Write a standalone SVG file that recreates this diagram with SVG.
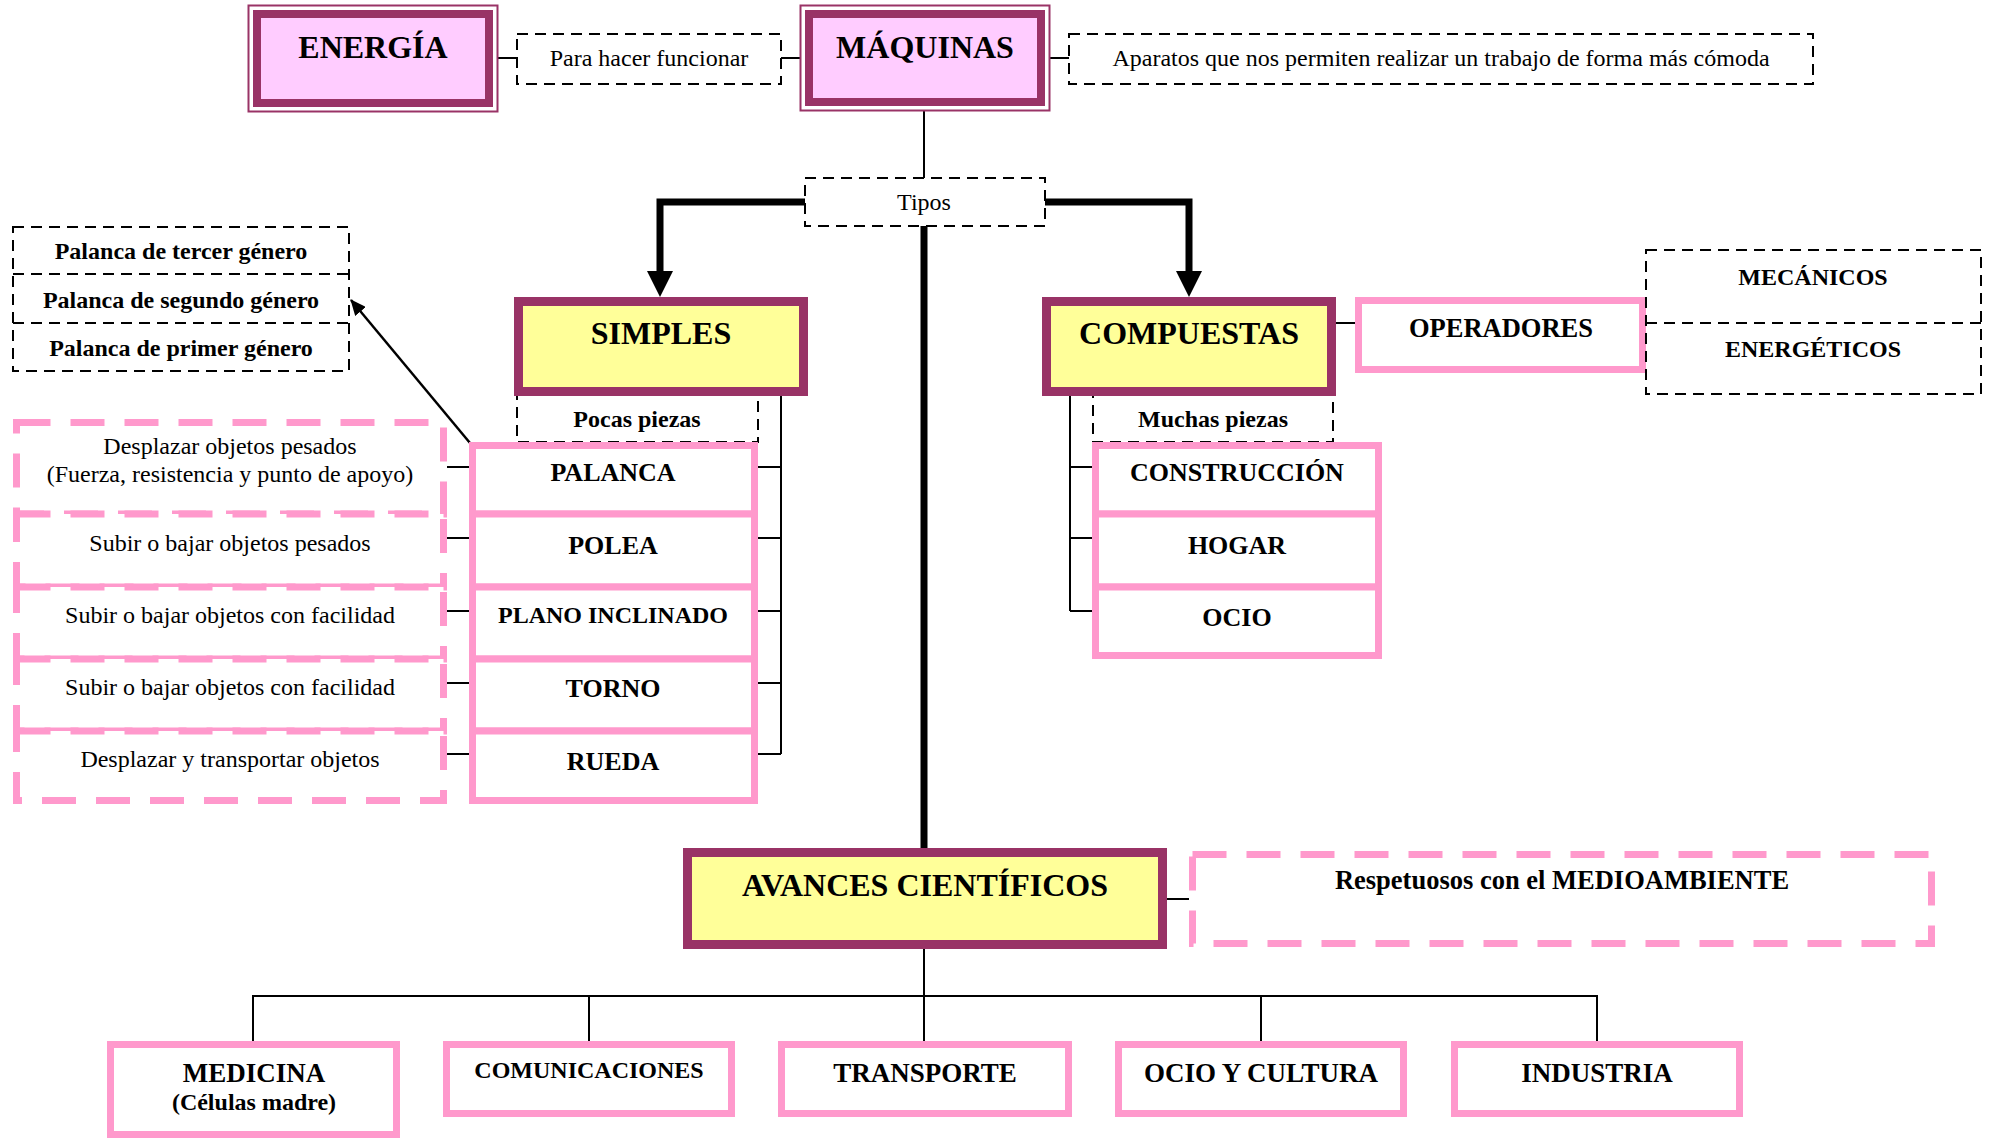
<svg xmlns="http://www.w3.org/2000/svg" width="1991" height="1139" viewBox="0 0 1991 1139">
<style>
text{font-family:"Liberation Serif","Times New Roman",serif;fill:#000;text-anchor:middle}
.b{font-weight:bold}
.t32{font-size:32px;font-weight:bold}
.t25{font-size:26px;font-weight:bold}
.t27{font-size:27px;font-weight:bold}
.t24{font-size:24px}
.dash{fill:#fff;stroke:#000;stroke-width:2;stroke-dasharray:11 7}
.pk{fill:#fff;stroke:#FF99CC;stroke-width:7}
.pkd{fill:#fff;stroke:#FF99CC;stroke-width:7;stroke-dasharray:34 20}
.mar{fill:#993366}
.ln{fill:none;stroke:#000;stroke-width:2}
.thick{fill:none;stroke:#000;stroke-width:7}
</style>
<defs>
<marker id="ahs" markerWidth="16" markerHeight="14" refX="15" refY="7" orient="auto" markerUnits="userSpaceOnUse" viewBox="0 0 16 14">
<path d="M0,0 L16,7 L0,14 z" fill="#000"/>
</marker>
</defs>

<g id="connectors">
<line class="ln" x1="498" y1="58" x2="517" y2="58"/>
<line class="ln" x1="781" y1="58" x2="800" y2="58"/>
<line class="ln" x1="1050" y1="58" x2="1069" y2="58"/>
<line class="ln" x1="924" y1="110" x2="924" y2="178"/>
<polyline class="thick" points="805,202 660,202 660,272"/>
<polygon points="647,271 673,271 660,297" fill="#000"/>
<polyline class="thick" points="1045,202 1189,202 1189,272"/>
<polygon points="1176,271 1202,271 1189,297" fill="#000"/>
<line class="thick" x1="924" y1="226" x2="924" y2="848"/>
<line class="ln" x1="1336" y1="323" x2="1355" y2="323"/>
<line x1="470" y1="443" x2="351" y2="300" stroke="#000" stroke-width="2.5" marker-end="url(#ahs)"/>
<polyline class="ln" points="781,396 781,754"/>
<line class="ln" x1="758" y1="467" x2="781" y2="467"/>
<line class="ln" x1="758" y1="538" x2="781" y2="538"/>
<line class="ln" x1="758" y1="611" x2="781" y2="611"/>
<line class="ln" x1="758" y1="683" x2="781" y2="683"/>
<line class="ln" x1="758" y1="754" x2="781" y2="754"/>
<line class="ln" x1="447" y1="467" x2="469" y2="467"/>
<line class="ln" x1="447" y1="538" x2="469" y2="538"/>
<line class="ln" x1="447" y1="611" x2="469" y2="611"/>
<line class="ln" x1="447" y1="683" x2="469" y2="683"/>
<line class="ln" x1="447" y1="754" x2="469" y2="754"/>
<polyline class="ln" points="1070,396 1070,611"/>
<line class="ln" x1="1070" y1="467" x2="1092" y2="467"/>
<line class="ln" x1="1070" y1="538" x2="1092" y2="538"/>
<line class="ln" x1="1070" y1="611" x2="1092" y2="611"/>
<line class="ln" x1="1167" y1="899" x2="1189" y2="899"/>
<line class="ln" x1="924" y1="949" x2="924" y2="996"/>
<polyline class="ln" points="253,1041 253,996 1597,996 1597,1041"/>
<line class="ln" x1="589" y1="996" x2="589" y2="1041"/>
<line class="ln" x1="924" y1="996" x2="924" y2="1041"/>
<line class="ln" x1="1261" y1="996" x2="1261" y2="1041"/>
</g>

<g id="energia">
<rect x="248.5" y="5.5" width="249" height="106" fill="#fff" stroke="#993366" stroke-width="2"/>
<rect class="mar" x="253" y="10" width="240" height="97"/>
<rect x="261" y="18" width="224" height="81" fill="#FFCCFF"/>
<text class="t32" x="373" y="58">ENERGÍA</text>
</g>
<g id="para-hacer">
<rect class="dash" x="517" y="34" width="264" height="50"/>
<text class="t24" x="649" y="66">Para hacer funcionar</text>
</g>
<g id="maquinas">
<rect x="800.5" y="5.5" width="249" height="105" fill="#fff" stroke="#993366" stroke-width="2"/>
<rect class="mar" x="805" y="10" width="240" height="96"/>
<rect x="813" y="18" width="224" height="80" fill="#FFCCFF"/>
<text class="t32" x="925" y="58">MÁQUINAS</text>
</g>
<g id="aparatos">
<rect class="dash" x="1069" y="34" width="744" height="50"/>
<text class="t24" x="1441" y="66">Aparatos que nos permiten realizar un trabajo de forma más cómoda</text>
</g>
<g id="tipos">
<rect class="dash" x="805" y="178" width="240" height="48"/>
<text class="t24" x="924" y="210">Tipos</text>
</g>

<g id="palanca-generos">
<rect class="dash" x="13" y="227" width="336" height="144"/>
<line x1="13" y1="274" x2="349" y2="274" stroke="#000" stroke-width="2" stroke-dasharray="11 7"/>
<line x1="13" y1="323" x2="349" y2="323" stroke="#000" stroke-width="2" stroke-dasharray="11 7"/>
<text class="t24 b" x="181" y="259">Palanca de tercer género</text>
<text class="t24 b" x="181" y="308">Palanca de segundo género</text>
<text class="t24 b" x="181" y="356">Palanca de primer género</text>
</g>

<g id="pocas-piezas">
<rect class="dash" x="517" y="390" width="241" height="52"/>
<text class="t24 b" x="637" y="427">Pocas piezas</text>
</g>
<g id="simples">
<rect class="mar" x="514" y="297" width="294" height="99"/>
<rect x="523" y="306" width="276" height="81" fill="#FFFF99"/>
<text class="t32" x="661" y="344">SIMPLES</text>
</g>

<g id="muchas-piezas">
<rect class="dash" x="1093" y="390" width="240" height="52"/>
<text class="t24 b" x="1213" y="427">Muchas piezas</text>
</g>
<g id="compuestas">
<rect class="mar" x="1042" y="297" width="294" height="99"/>
<rect x="1051" y="306" width="276" height="81" fill="#FFFF99"/>
<text class="t32" x="1189" y="344">COMPUESTAS</text>
</g>

<g id="operadores">
<rect class="pk" x="1358.5" y="300.5" width="284" height="69"/>
<text class="b" style="font-size:26.5px" x="1501" y="337">OPERADORES</text>
</g>
<g id="tipos-operadores">
<rect class="dash" x="1646" y="250" width="335" height="144"/>
<line x1="1646" y1="323" x2="1981" y2="323" stroke="#000" stroke-width="2" stroke-dasharray="11 7"/>
<text class="t24 b" x="1813" y="285">MECÁNICOS</text>
<text class="t24 b" x="1813" y="357">ENERGÉTICOS</text>
</g>

<g id="desc-palanca">
<rect class="pkd" x="16.5" y="422.5" width="427" height="91.5"/>
<text class="t24" x="230" y="454">Desplazar objetos pesados</text>
<text class="t24" x="230" y="482">(Fuerza, resistencia y punto de apoyo)</text>
</g>
<g id="desc-polea">
<rect class="pkd" x="16.5" y="514" width="427" height="73"/>
<text class="t24" x="230" y="551">Subir o bajar objetos pesados</text>
</g>
<g id="desc-plano">
<rect class="pkd" x="16.5" y="587" width="427" height="72"/>
<text class="t24" x="230" y="623">Subir o bajar objetos con facilidad</text>
</g>
<g id="desc-torno">
<rect class="pkd" x="16.5" y="659" width="427" height="72"/>
<text class="t24" x="230" y="695">Subir o bajar objetos con facilidad</text>
</g>
<g id="desc-rueda">
<rect class="pkd" x="16.5" y="731" width="427" height="69.5"/>
<text class="t24" x="230" y="767">Desplazar y transportar objetos</text>
</g>

<g id="palanca">
<rect class="pk" x="472.5" y="445.5" width="282" height="68.5"/>
<text class="t25" x="613" y="481">PALANCA</text>
</g>
<g id="polea">
<rect class="pk" x="472.5" y="514" width="282" height="73"/>
<text class="t25" x="613" y="554">POLEA</text>
</g>
<g id="plano-inclinado">
<rect class="pk" x="472.5" y="587" width="282" height="72"/>
<text class="b" style="font-size:24px" x="613" y="623">PLANO INCLINADO</text>
</g>
<g id="torno">
<rect class="pk" x="472.5" y="659" width="282" height="72"/>
<text class="t25" x="613" y="697">TORNO</text>
</g>
<g id="rueda">
<rect class="pk" x="472.5" y="731" width="282" height="69.5"/>
<text class="t25" x="613" y="770">RUEDA</text>
</g>

<g id="construccion">
<rect class="pk" x="1095.5" y="445.5" width="283" height="68.5"/>
<text class="t25" x="1237" y="481">CONSTRUCCIÓN</text>
</g>
<g id="hogar">
<rect class="pk" x="1095.5" y="514" width="283" height="73"/>
<text class="t25" x="1237" y="554">HOGAR</text>
</g>
<g id="ocio">
<rect class="pk" x="1095.5" y="587" width="283" height="68.5"/>
<text class="t25" x="1237" y="626">OCIO</text>
</g>

<g id="avances">
<rect class="mar" x="683" y="848" width="484" height="101"/>
<rect x="692" y="857" width="466" height="83" fill="#FFFF99"/>
<text class="t32" x="925" y="896">AVANCES CIENTÍFICOS</text>
</g>
<g id="respetuosos">
<rect class="pkd" x="1192.5" y="854.5" width="739" height="89"/>
<text class="b" style="font-size:26.5px" x="1562" y="889">Respetuosos con el MEDIOAMBIENTE</text>
</g>

<g id="medicina">
<rect class="pk" x="110.5" y="1044.5" width="286" height="90"/>
<text class="t27" x="254" y="1082">MEDICINA</text>
<text class="b" style="font-size:24px" x="254" y="1110">(Células madre)</text>
</g>
<g id="comunicaciones">
<rect class="pk" x="446.5" y="1044.5" width="285" height="69"/>
<text class="b" style="font-size:24px" x="589" y="1078">COMUNICACIONES</text>
</g>
<g id="transporte">
<rect class="pk" x="781.5" y="1044.5" width="287" height="69"/>
<text class="t27" x="925" y="1082">TRANSPORTE</text>
</g>
<g id="ocio-cultura">
<rect class="pk" x="1118.5" y="1044.5" width="285" height="69"/>
<text class="t27" x="1261" y="1082">OCIO Y CULTURA</text>
</g>
<g id="industria">
<rect class="pk" x="1454.5" y="1044.5" width="285" height="69"/>
<text class="t27" x="1597" y="1082">INDUSTRIA</text>
</g>
</svg>
